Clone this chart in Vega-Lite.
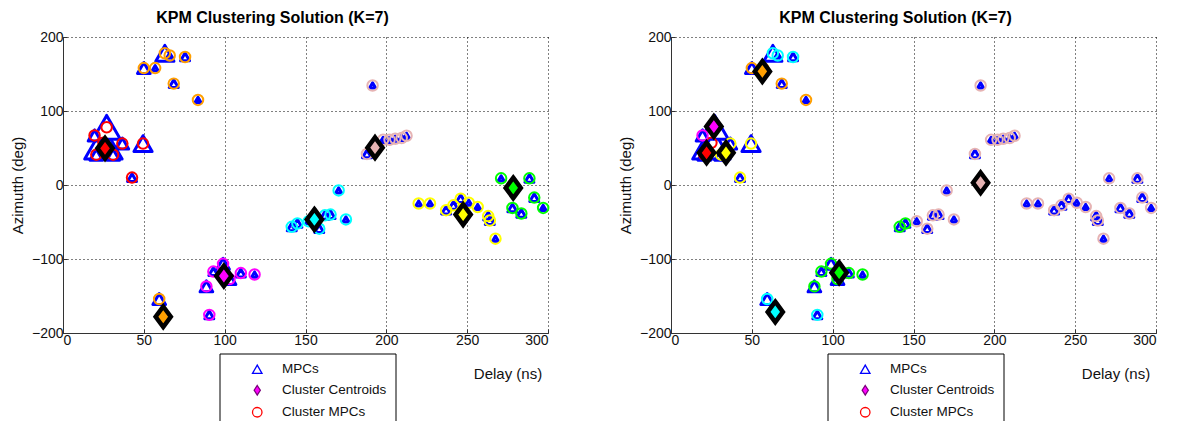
{
  "$schema": "https://vega.github.io/schema/vega-lite/v6.json",
  "background": "white",
  "padding": {"left": 10, "top": 10, "right": 3, "bottom": -5},
  "spacing": 123,
  "bounds": "flush",
  "config": {
    "font": "Liberation Sans",
    "view": {"stroke": null},
    "title": {"fontSize": 16, "fontWeight": "bold", "color": "black", "font": "Liberation Sans", "anchor": "middle", "frame": "group", "baseline": "bottom", "offset": 4},
    "axis": {
      "grid": true, "gridDash": [1, 3], "gridColor": "black", "gridOpacity": 1, "gridWidth": 1,
      "domainColor": "#333", "domainWidth": 1, "tickColor": "#333", "tickSize": -4, "labelPadding": 4,
      "labelFont": "Liberation Sans", "labelFontSize": 14, "labelColor": "#111",
      "titleFont": "Liberation Sans", "titleFontSize": 15, "titleFontWeight": "normal", "titleColor": "#111"
    },
    "legend": {"symbolOpacity": 1}
  },
  "datasets": {
    "mpc": [
      {"d": 50, "az": 158, "p": 3, "k1": "C2", "k2": "C2"},
      {"d": 57, "az": 158, "p": 1, "k1": "C2", "k2": "C2"},
      {"d": 63, "az": 178, "p": 4, "k1": "C2", "k2": "C4"},
      {"d": 66, "az": 175, "p": 1, "k1": "C2", "k2": "C4"},
      {"d": 75.5, "az": 173, "p": 2, "k1": "C2", "k2": "C4"},
      {"d": 68.5, "az": 137, "p": 2, "k1": "C2", "k2": "C2"},
      {"d": 83.5, "az": 115, "p": 1, "k1": "C2", "k2": "C2"},
      {"d": 27, "az": 78, "p": 5, "k1": "C1", "k2": "C7"},
      {"d": 25, "az": 57, "p": 6, "k1": "C1", "k2": "C1"},
      {"d": 19.5, "az": 67, "p": 3, "k1": "C1", "k2": "C7"},
      {"d": 36.7, "az": 56, "p": 3, "k1": "C1", "k2": "C5"},
      {"d": 49.5, "az": 56, "p": 4, "k1": "C1", "k2": "C5"},
      {"d": 42.7, "az": 10, "p": 2, "k1": "C1", "k2": "C5"},
      {"d": 20.6, "az": 41, "p": 3, "k1": "C1", "k2": "C1"},
      {"d": 31, "az": 41, "p": 3, "k1": "C1", "k2": "C5"},
      {"d": 191.5, "az": 134.5, "p": 1, "k1": "C3", "k2": "C3"},
      {"d": 188, "az": 42, "p": 2, "k1": "C3", "k2": "C3"},
      {"d": 198, "az": 61, "p": 1, "k1": "C3", "k2": "C3"},
      {"d": 202, "az": 61, "p": 1, "k1": "C3", "k2": "C3"},
      {"d": 205.5, "az": 62.5, "p": 1, "k1": "C3", "k2": "C3"},
      {"d": 209.5, "az": 63.5, "p": 1, "k1": "C3", "k2": "C3"},
      {"d": 212.5, "az": 66.5, "p": 1, "k1": "C3", "k2": "C3"},
      {"d": 170.5, "az": -7.3, "p": 1, "k1": "C4", "k2": "C3"},
      {"d": 141.5, "az": -56.5, "p": 2, "k1": "C4", "k2": "C6"},
      {"d": 145, "az": -52, "p": 2, "k1": "C4", "k2": "C6"},
      {"d": 152, "az": -49, "p": 1, "k1": "C4", "k2": "C3"},
      {"d": 158.5, "az": -59, "p": 2, "k1": "C4", "k2": "C3"},
      {"d": 162, "az": -41, "p": 2, "k1": "C4", "k2": "C3"},
      {"d": 165.5, "az": -40, "p": 2, "k1": "C4", "k2": "C3"},
      {"d": 175, "az": -46.5, "p": 1, "k1": "C4", "k2": "C3"},
      {"d": 220, "az": -25, "p": 1, "k1": "C5", "k2": "C3"},
      {"d": 227, "az": -25, "p": 1, "k1": "C5", "k2": "C3"},
      {"d": 237, "az": -34, "p": 2, "k1": "C5", "k2": "C3"},
      {"d": 241.5, "az": -27.5, "p": 2, "k1": "C5", "k2": "C3"},
      {"d": 246, "az": -18.5, "p": 2, "k1": "C5", "k2": "C3"},
      {"d": 251, "az": -24, "p": 1, "k1": "C5", "k2": "C3"},
      {"d": 256.5, "az": -29.7, "p": 1, "k1": "C5", "k2": "C3"},
      {"d": 263, "az": -42, "p": 2, "k1": "C5", "k2": "C3"},
      {"d": 264, "az": -48, "p": 2, "k1": "C5", "k2": "C3"},
      {"d": 267.5, "az": -72.5, "p": 1, "k1": "C5", "k2": "C3"},
      {"d": 271, "az": 9, "p": 1, "k1": "C6", "k2": "C3"},
      {"d": 288.5, "az": 9, "p": 2, "k1": "C6", "k2": "C3"},
      {"d": 278, "az": -31, "p": 2, "k1": "C6", "k2": "C3"},
      {"d": 283.5, "az": -38.5, "p": 2, "k1": "C6", "k2": "C3"},
      {"d": 291.5, "az": -17, "p": 2, "k1": "C6", "k2": "C3"},
      {"d": 297, "az": -31, "p": 1, "k1": "C6", "k2": "C3"},
      {"d": 88.7, "az": -137, "p": 3, "k1": "C7", "k2": "C6"},
      {"d": 93, "az": -117, "p": 2, "k1": "C7", "k2": "C6"},
      {"d": 99, "az": -106.5, "p": 3, "k1": "C7", "k2": "C6"},
      {"d": 103, "az": -127, "p": 3, "k1": "C7", "k2": "C6"},
      {"d": 110, "az": -119, "p": 2, "k1": "C7", "k2": "C6"},
      {"d": 118.5, "az": -121, "p": 1, "k1": "C7", "k2": "C6"},
      {"d": 90.5, "az": -175.5, "p": 2, "k1": "C7", "k2": "C4"},
      {"d": 59.5, "az": -154, "p": 3, "k1": "C2", "k2": "C4"}
    ],
    "centroids": [
      {"run": "A", "k": "C1", "d": 26, "az": 49.5},
      {"run": "A", "k": "C2", "d": 62, "az": -178},
      {"run": "A", "k": "C3", "d": 193, "az": 50.5},
      {"run": "A", "k": "C4", "d": 155.5, "az": -46.5},
      {"run": "A", "k": "C5", "d": 247.5, "az": -40},
      {"run": "A", "k": "C6", "d": 278.5, "az": -4},
      {"run": "A", "k": "C7", "d": 99.5, "az": -123},
      {"run": "B", "k": "C2", "d": 56.5, "az": 153.5},
      {"run": "B", "k": "C7", "d": 26.5, "az": 79},
      {"run": "B", "k": "C1", "d": 22, "az": 43.5},
      {"run": "B", "k": "C5", "d": 34, "az": 43.5},
      {"run": "B", "k": "C3", "d": 191.5, "az": 3},
      {"run": "B", "k": "C6", "d": 104, "az": -118.5},
      {"run": "B", "k": "C4", "d": 64.5, "az": -171.5}
    ],
    "key": [
      {"item": "MPCs"},
      {"item": "Cluster Centroids"},
      {"item": "Cluster MPCs"}
    ]
  },
  "hconcat": [
    {
      "width": 485,
      "height": 296,
      "title": {"text": "KPM Clustering Solution (K=7)", "dx": -33},
      "resolve": {"scale": {"stroke": "independent", "fill": "independent", "shape": "independent"}},
      "layer": [
        {
          "data": {"name": "mpc"},
          "mark": {"type": "point", "shape": "triangle-up", "filled": true, "fill": "white", "stroke": "#0000FF", "strokeWidth": 3, "strokeJoin": "round", "opacity": 1},
          "encoding": {
            "x": {"field": "d", "type": "quantitative", "scale": {"domain": [0, 300], "nice": false}, "axis": {"values": [0, 50, 100, 150, 200, 250, 300], "title": "Delay (ns)", "titleX": 444.5, "titleY": 40, "titleAlign": "center", "titleBaseline": "middle"}},
            "y": {"field": "az", "type": "quantitative", "scale": {"domain": [-200, 200], "nice": false}, "axis": {"values": [-200, -150, -100, -50, 0, 50, 100, 150, 200], "title": "Azimutth (deg)", "titleX": -46, "titleY": 148, "titleAlign": "center", "titleBaseline": "middle"}},
            "size": {"field": "p", "type": "ordinal", "scale": {"type": "ordinal", "domain": [1, 2, 3, 4, 5, 6], "range": [36, 80, 160, 330, 750, 1400]}, "legend": null},
            "order": {"field": "p", "sort": "descending"}
          }
        },
        {
          "data": {"name": "mpc"},
          "mark": {"type": "point", "shape": "circle", "filled": false, "strokeWidth": 2, "size": 110, "opacity": 1},
          "encoding": {
            "x": {"field": "d", "type": "quantitative"},
            "y": {"field": "az", "type": "quantitative"},
            "stroke": {"field": "k1", "type": "nominal", "scale": {"domain": ["C1", "C2", "C3", "C4", "C5", "C6", "C7"], "range": ["#FF0000", "#FF9F00", "#E6B3B3", "#00FFFF", "#FFFF00", "#00FF00", "#FF00FF"]}, "legend": null}
          }
        },
        {
          "data": {"name": "centroids"},
          "transform": [{"filter": "datum.run === 'A'"}],
          "mark": {"type": "point", "shape": "M0,-1L0.74,0L0,1L-0.74,0Z", "filled": true, "stroke": "black", "strokeWidth": 4.5, "size": 420, "opacity": 1},
          "encoding": {
            "x": {"field": "d", "type": "quantitative"},
            "y": {"field": "az", "type": "quantitative"},
            "fill": {"field": "k", "type": "nominal", "scale": {"domain": ["C1", "C2", "C3", "C4", "C5", "C6", "C7"], "range": ["#FF0000", "#FF9F00", "#E6B3B3", "#00FFFF", "#FFFF00", "#00FF00", "#FF00FF"]}, "legend": null}
          }
        },
        {
          "data": {"name": "key"},
          "mark": {"type": "point", "filled": true, "opacity": 0},
          "encoding": {
            "shape": {"field": "item", "type": "nominal", "scale": {"domain": ["MPCs", "Cluster Centroids", "Cluster MPCs"], "range": ["triangle-up", "M0,-1L0.65,0L0,1L-0.65,0Z", "circle"]},
              "legend": {"title": null, "orient": "none", "legendX": 156.5, "legendY": 316.5, "direction": "vertical", "padding": 9, "strokeColor": "black", "fillColor": "white", "symbolOffset": 22, "labelOffset": 18, "rowPadding": 6, "labelFont": "Liberation Sans", "labelFontSize": 13.5, "labelColor": "#111", "symbolSize": 90, "symbolStrokeWidth": 1.3, "cornerRadius": 0, "encode": {"symbols": {"update": {"opacity": {"value": 1}}}}}},
            "stroke": {"field": "item", "type": "nominal", "scale": {"domain": ["MPCs", "Cluster Centroids", "Cluster MPCs"], "range": ["#0000FF", "#7A007A", "#FF0000"]}},
            "fill": {"field": "item", "type": "nominal", "scale": {"domain": ["MPCs", "Cluster Centroids", "Cluster MPCs"], "range": ["transparent", "#FF00FF", "transparent"]}}
          }
        }
      ]
    },
    {
      "width": 485,
      "height": 296,
      "title": {"text": "KPM Clustering Solution (K=7)", "dx": -18},
      "resolve": {"scale": {"stroke": "independent", "fill": "independent", "shape": "independent"}},
      "layer": [
        {
          "data": {"name": "mpc"},
          "mark": {"type": "point", "shape": "triangle-up", "filled": true, "fill": "white", "stroke": "#0000FF", "strokeWidth": 3, "strokeJoin": "round", "opacity": 1},
          "encoding": {
            "x": {"field": "d", "type": "quantitative", "scale": {"domain": [0, 300], "nice": false}, "axis": {"values": [0, 50, 100, 150, 200, 250, 300], "title": "Delay (ns)", "titleX": 444.5, "titleY": 40, "titleAlign": "center", "titleBaseline": "middle"}},
            "y": {"field": "az", "type": "quantitative", "scale": {"domain": [-200, 200], "nice": false}, "axis": {"values": [-200, -150, -100, -50, 0, 50, 100, 150, 200], "title": "Azimutth (deg)", "titleX": -46, "titleY": 148, "titleAlign": "center", "titleBaseline": "middle"}},
            "size": {"field": "p", "type": "ordinal", "scale": {"type": "ordinal", "domain": [1, 2, 3, 4, 5, 6], "range": [36, 80, 160, 330, 750, 1400]}, "legend": null},
            "order": {"field": "p", "sort": "descending"}
          }
        },
        {
          "data": {"name": "mpc"},
          "mark": {"type": "point", "shape": "circle", "filled": false, "strokeWidth": 2, "size": 110, "opacity": 1},
          "encoding": {
            "x": {"field": "d", "type": "quantitative"},
            "y": {"field": "az", "type": "quantitative"},
            "stroke": {"field": "k2", "type": "nominal", "scale": {"domain": ["C1", "C2", "C3", "C4", "C5", "C6", "C7"], "range": ["#FF0000", "#FF9F00", "#E6B3B3", "#00FFFF", "#FFFF00", "#00FF00", "#FF00FF"]}, "legend": null}
          }
        },
        {
          "data": {"name": "centroids"},
          "transform": [{"filter": "datum.run === 'B'"}],
          "mark": {"type": "point", "shape": "M0,-1L0.74,0L0,1L-0.74,0Z", "filled": true, "stroke": "black", "strokeWidth": 4.5, "size": 420, "opacity": 1},
          "encoding": {
            "x": {"field": "d", "type": "quantitative"},
            "y": {"field": "az", "type": "quantitative"},
            "fill": {"field": "k", "type": "nominal", "scale": {"domain": ["C1", "C2", "C3", "C4", "C5", "C6", "C7"], "range": ["#FF0000", "#FF9F00", "#E6B3B3", "#00FFFF", "#FFFF00", "#00FF00", "#FF00FF"]}, "legend": null}
          }
        },
        {
          "data": {"name": "key"},
          "mark": {"type": "point", "filled": true, "opacity": 0},
          "encoding": {
            "shape": {"field": "item", "type": "nominal", "scale": {"domain": ["MPCs", "Cluster Centroids", "Cluster MPCs"], "range": ["triangle-up", "M0,-1L0.65,0L0,1L-0.65,0Z", "circle"]},
              "legend": {"title": null, "orient": "none", "legendX": 156.5, "legendY": 316.5, "direction": "vertical", "padding": 9, "strokeColor": "black", "fillColor": "white", "symbolOffset": 22, "labelOffset": 18, "rowPadding": 6, "labelFont": "Liberation Sans", "labelFontSize": 13.5, "labelColor": "#111", "symbolSize": 90, "symbolStrokeWidth": 1.3, "cornerRadius": 0, "encode": {"symbols": {"update": {"opacity": {"value": 1}}}}}},
            "stroke": {"field": "item", "type": "nominal", "scale": {"domain": ["MPCs", "Cluster Centroids", "Cluster MPCs"], "range": ["#0000FF", "#7A007A", "#FF0000"]}},
            "fill": {"field": "item", "type": "nominal", "scale": {"domain": ["MPCs", "Cluster Centroids", "Cluster MPCs"], "range": ["transparent", "#FF00FF", "transparent"]}}
          }
        }
      ]
    }
  ]
}
